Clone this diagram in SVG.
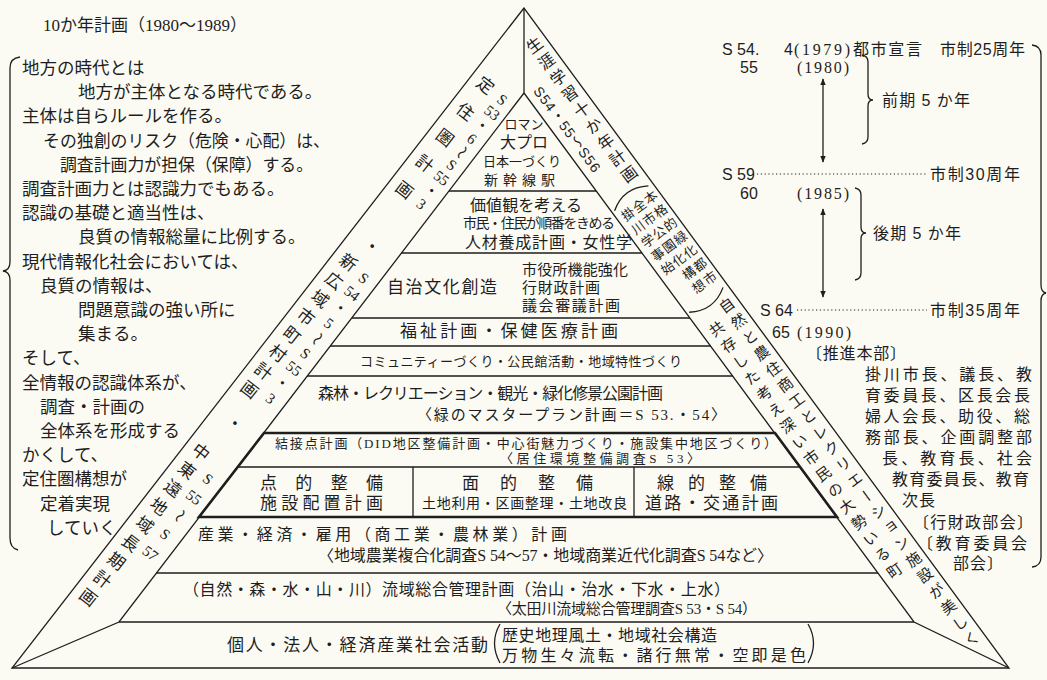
<svg xmlns="http://www.w3.org/2000/svg" width="1047" height="680" viewBox="0 0 1047 680">
<style>
text{font-family:"Liberation Serif","Noto Sans CJK JP",serif;fill:#1e1e1e;dominant-baseline:central}
.s{font-family:"Liberation Sans","Noto Sans CJK JP",sans-serif}
.vt{writing-mode:vertical-rl}
.ln{fill:none;stroke:#1e1e1e;stroke-width:1.3}
.bold{stroke-width:2.6}
.dot{stroke-dasharray:1.2 2.6;stroke-width:1.1}
.f13{font-size:13px}.f14{font-size:14px}.f15{font-size:15px}.f16{font-size:16px}.f17{font-size:17px}.f175{font-size:17.5px}
.mid{text-anchor:middle}
</style>
<defs>
<marker id="ah" viewBox="0 0 10 10" refX="9" refY="5" markerUnits="userSpaceOnUse" markerWidth="7" markerHeight="8" orient="auto-start-reverse"><path d="M0,1 L10,5 L0,9 z" fill="#1e1e1e"/></marker>
</defs>
<rect width="1047" height="680" fill="#fcfbf3"/>

<g id="connectors">
<path class="ln" d="M524,8 L12,668 L1009,668 Z"/>
<path class="ln" d="M524,8 L524,93"/>
<path class="ln" d="M524,93 L119,622 L12,668"/>
<path class="ln" d="M524,93 L914,622 L1009,668"/>
<path class="ln" d="M449,191 H596 M401,253 H642 M352,318 H690 M330,346 H711 M307,376 H733 M119,622 H914 M156,573 H878"/>
<path class="ln" stroke-width="1.8" d="M238,467 H800 M413,467 V517 M634,467 V517"/>
<path class="ln bold" d="M264,433 L775,433 L837,517 L199,517 Z"/>
<path class="ln" d="M20,57 Q10,58 10,68 L10,262 Q10,270 3,271 Q10,272 10,280 L10,538 Q10,548 18,550"/>
<path class="ln" d="M1032,45 Q1041,46 1041,55 L1041,285 Q1041,292 1046,293 Q1041,294 1041,301 L1041,557 Q1041,566 1032,567"/>
<path class="ln" stroke-width="1.1" d="M862,55 Q868,56 868,62 L868,94 Q868,100 873,100 Q868,100 868,106 L868,137 Q868,143 862,144"/>
<path class="ln" stroke-width="1.1" d="M855,188 Q861,189 861,195 L861,227 Q861,233 866,233 Q861,233 861,239 L861,273 Q861,279 855,280"/>
<path class="ln" stroke-width="1.2" d="M823,79 V162" marker-start="url(#ah)" marker-end="url(#ah)"/>
<path class="ln" stroke-width="1.2" d="M823,209 V297" marker-start="url(#ah)" marker-end="url(#ah)"/>
<path class="ln dot" d="M757,174 H928 M797,310 H927"/>
<path class="ln" stroke-width="1.1" d="M500,624 Q489,643 500,663 M808,624 Q819,643 808,663"/>
</g>

<g id="title"><text class="f17" x="43" y="25">10か年計画（1980〜1989）</text></g>

<g id="left-notes" class="f175">
<text x="22" y="68">地方の時代とは</text>
<text x="78" y="92.2">地方が主体となる時代である。</text>
<text x="22" y="116.4">主体は自らルールを作る。</text>
<text x="43" y="140.6" textLength="287" lengthAdjust="spacingAndGlyphs">その独創のリスク（危険・心配）は、</text>
<text x="60" y="164.8" textLength="253" lengthAdjust="spacingAndGlyphs">調査計画力が担保（保障）する。</text>
<text x="22" y="189">調査計画力とは認識力でもある。</text>
<text x="22" y="213.2">認識の基礎と適当性は、</text>
<text x="78" y="237.4">良質の情報総量に比例する。</text>
<text x="22" y="261.6">現代情報化社会においては、</text>
<text x="40" y="285.8">良質の情報は、</text>
<text x="78" y="310">問題意識の強い所に</text>
<text x="78" y="334.2">集まる。</text>
<text x="22" y="358.4">そして、</text>
<text x="22" y="382.6">全情報の認識体系が、</text>
<text x="40" y="406.8">調査・計画の</text>
<text x="40" y="431">全体系を形成する</text>
<text x="22" y="455.2">かくして、</text>
<text x="22" y="479.4">定住圏構想が</text>
<text x="40" y="503.6">定着実現</text>
<text x="47" y="527.8">していく</text>
</g>

<g id="timeline" class="f16">
<text class="s" x="722" y="49">S 54.</text>
<text class="s" x="784" y="49">4</text>
<text x="794" y="49" textLength="56">(1979)</text>
<text x="853" y="49" textLength="69">都市宣言</text>
<text x="940" y="49" textLength="85"><tspan>市制</tspan><tspan class="s">25</tspan><tspan>周年</tspan></text>
<text class="s" x="740" y="67">55</text>
<text x="797" y="67" textLength="52">(1980)</text>
<text x="882" y="100" textLength="88">前期 <tspan class="s">5</tspan> か年</text>
<text class="s" x="722" y="174">S 59</text>
<text x="930" y="174" textLength="90">市制<tspan class="s">30</tspan>周年</text>
<text class="s" x="740" y="193">60</text>
<text x="797" y="193" textLength="52">(1985)</text>
<text x="873" y="233" textLength="88">後期 <tspan class="s">5</tspan> か年</text>
<text class="s" x="760" y="310">S 64</text>
<text x="930" y="310" textLength="90">市制<tspan class="s">35</tspan>周年</text>
<text class="s" x="772" y="332">65</text>
<text x="797" y="332" textLength="54">(1990)</text>
<text x="806" y="353" textLength="100">〔推進本部〕</text>
<text x="865" y="374" textLength="167">掛川市長、議長、教</text>
<text x="865" y="395" textLength="165">育委員長、区長会長</text>
<text x="865" y="416" textLength="165">婦人会長、助役、総</text>
<text x="865" y="437" textLength="167">務部長、企画調整部</text>
<text x="882" y="458" textLength="150">長、教育長、社会</text>
<text x="892" y="479" textLength="137">教育委員長、教育</text>
<text x="902" y="500" textLength="33">次長</text>
<text x="913" y="522" textLength="120">〔行財政部会〕</text>
<text x="917" y="543" textLength="110">〔教育委員会</text>
<text x="953" y="563" textLength="50">部会〕</text>
</g>

<g id="band-left" transform="translate(524,8) rotate(37.8)">
<text class="vt f17" x="15" y="76" letter-spacing="16">定住圏計画</text>
<g class="f15 s mid">
<text x="39" y="86">S</text><text x="39" y="102.5">53</text><text x="39" y="119">・</text><text x="39" y="135.5">6</text>
<text transform="translate(39,152) rotate(90)">〜</text>
<text x="39" y="168.5">S</text><text x="39" y="185">55</text><text x="39" y="201.5">・</text><text x="39" y="218">3</text>
</g>
<text class="f17 mid" x="26" y="282">・</text>
<text class="vt f17" x="15" y="300" letter-spacing="6">新広域市町村計画</text>
<g class="f15 s mid">
<text x="39" y="312">S</text><text x="39" y="331">54</text><text x="39" y="350">・</text><text x="39" y="369">5</text>
<text transform="translate(39,388) rotate(90)">〜</text>
<text x="39" y="407">S</text><text x="39" y="426">55</text><text x="39" y="445">・</text><text x="39" y="464">3</text>
</g>
<text class="f17 mid" x="26" y="506">・</text>
<text class="vt f17" x="15" y="540" letter-spacing="6">中東遠地域長期計画</text>
<g class="f15 s mid">
<text x="39" y="566">S</text><text x="39" y="589">55</text>
<text transform="translate(39,612) rotate(90)">〜</text>
<text x="39" y="636">S</text><text x="39" y="660">57</text>
</g>
</g>

<g id="band-right" transform="translate(524,8) rotate(-36.3)">
<text class="vt f16" x="-15" y="28" letter-spacing="4">生涯学習十か年計画</text>
<text class="vt f14 s" x="-37" y="72" letter-spacing="1">S54・55〜S56</text>
<path class="ln" stroke-width="1.2" d="M-5,217 Q-26,203 -47,217"/>
<text class="vt f13" x="-11" y="221" letter-spacing="3.7">本格的緑化都市</text>
<text class="vt f13" x="-25" y="221" letter-spacing="3.7">全市公園化構想</text>
<text class="vt f13" x="-39" y="221" letter-spacing="3.7">掛川学事始</text>
<path class="ln" stroke-width="1.2" d="M-5,343 Q-26,357 -47,343"/>
<text class="vt f15" x="-14" y="352" letter-spacing="4.7">自然と農住商工とレクリエーション施設が美しく</text>
<text class="vt f15" x="-36" y="365" letter-spacing="5">共存した考え深い市民の大勢いる町</text>
</g>

<g id="node-top">
<text class="f13 mid" x="524" y="124">ロマン</text>
<text class="f16 mid" x="524" y="142">大プロ</text>
<text class="f13 mid" x="522" y="161">日本一づくり</text>
<text class="f14 mid" x="522" y="180" letter-spacing="5">新幹線駅</text>
</g>
<g id="node-values">
<text class="f16" x="470" y="205" textLength="112">価値観を考える</text>
<text class="f14" x="463" y="223" textLength="152">市民・住民が順番をきめる</text>
<text class="f16" x="465" y="242" textLength="167">人材養成計画・女性学</text>
</g>
<g id="node-autonomy">
<text class="f17" x="387" y="287" textLength="110">自治文化創造</text>
<text class="f15" x="522" y="270" textLength="106">市役所機能強化</text>
<text class="f15" x="522" y="288" textLength="78">行財政計画</text>
<text class="f15" x="522" y="306" textLength="98">議会審議計画</text>
</g>
<g id="node-welfare"><text class="f17" x="400" y="331" textLength="218">福祉計画・保健医療計画</text></g>
<g id="node-community"><text class="f13" x="360" y="361" textLength="322">コミュニティーづくり・公民館活動・地域特性づくり</text></g>
<g id="node-forest">
<text class="f16" x="318" y="393" textLength="345">森林・レクリエーション・観光・緑化修景公園計画</text>
<text class="f15" x="417" y="415" textLength="309">〈緑のマスタープラン計画＝S 53.・54〉</text>
</g>
<g id="node-nodal">
<text class="f13" x="275" y="443" textLength="502">結接点計画（DID地区整備計画・中心街魅力づくり・施設集中地区づくり）</text>
<text class="f13" x="500" y="458" textLength="200">〈居住環境整備調査S 53〉</text>
</g>
<g id="node-point">
<text class="f17" x="260" y="483" textLength="123">点的整備</text>
<text class="f17" x="260" y="503" textLength="123">施設配置計画</text>
</g>
<g id="node-area">
<text class="f17" x="462" y="483" textLength="131">面的整備</text>
<text class="f14" x="422" y="503" textLength="205">土地利用・区画整理・土地改良</text>
</g>
<g id="node-line">
<text class="f17" x="657" y="483" textLength="110">線的整備</text>
<text class="f17" x="645" y="503" textLength="133">道路・交通計画</text>
</g>
<g id="node-industry">
<text class="f16" x="198" y="534" textLength="369">産業・経済・雇用（商工業・農林業）計画</text>
<text class="f16" x="318" y="555" textLength="455">〈地域農業複合化調査S 54〜57・地域商業近代化調査S 54など〉</text>
</g>
<g id="node-basin">
<text class="f16" x="183" y="589" textLength="547">（自然・森・水・山・川）流域総合管理計画（治山・治水・下水・上水）</text>
<text class="f15" x="497" y="609" textLength="260">〈太田川流域総合管理調査S 53・S 54）</text>
</g>
<g id="node-base">
<text class="f17" x="227" y="645" textLength="261">個人・法人・経済産業社会活動</text>
<text class="f16" x="502" y="635" textLength="215">歴史地理風土・地域社会構造</text>
<text class="f16" x="502" y="655" textLength="304">万物生々流転・諸行無常・空即是色</text>
</g>
</svg>
